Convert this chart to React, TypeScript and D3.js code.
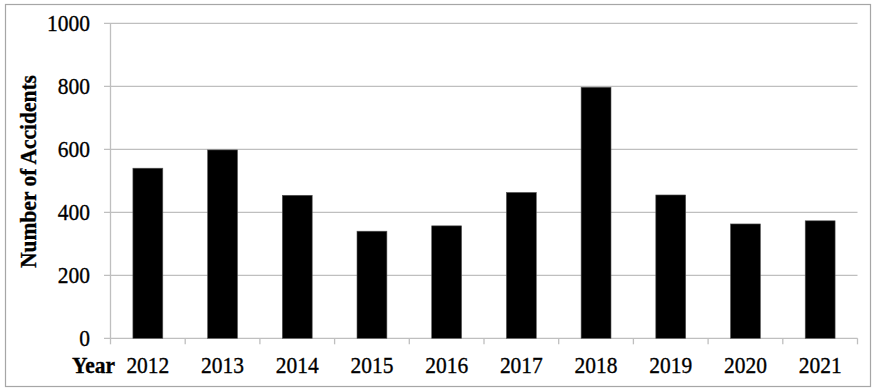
import React from "react";
import * as d3 from "d3";

const years = ["2012", "2013", "2014", "2015", "2016", "2017", "2018", "2019", "2020", "2021"];
const accidents = [540, 598, 454, 340, 357, 463, 797, 455, 363, 373];
const yTicks = [0, 200, 400, 600, 800, 1000];

const W = 877;
const H = 391;
const M = { left: 110.5, right: 857.5, top: 23.3, bottom: 338.3 };
const FONT = "'Liberation Serif', 'Times New Roman', serif";
const FS = 24;
const SX = 0.895;

function T(props: { x: number; y: number; rot?: boolean; anchor: string; bold?: boolean; dy?: string; children: React.ReactNode }) {
  const tr = `translate(${props.x},${props.y})${props.rot ? " rotate(-90)" : ""} scale(${SX},1)`;
  return (
    <text
      transform={tr}
      dy={props.dy}
      textAnchor={props.anchor}
      fontFamily={FONT}
      fontSize={FS}
      fontWeight={props.bold ? "bold" : "normal"}
      fill="#000"
      stroke="#000"
      strokeWidth={0.35}
    >
      {props.children}
    </text>
  );
}

export default function App() {
  const x = d3.scaleBand<string>().domain(years).range([M.left, M.right]).paddingInner(0.6).paddingOuter(0.3);
  const xc = d3.scaleBand<string>().domain(years).range([M.left, M.right]);
  const y = d3.scaleLinear().domain([0, 1000]).range([M.bottom, M.top]);

  return (
    <svg width={W} height={H} style={{ position: "absolute", left: 0, top: 0, background: "#fff" }}>
      <rect x={5.5} y={4.5} width={865} height={382} fill="#fff" stroke="#a6a6a6" strokeWidth={1.2} />
      {yTicks.map((t) => (
        <g key={t}>
          <line x1={104} x2={M.right} y1={y(t)} y2={y(t)} stroke="#bfbfbf" strokeWidth={1.3} />
          <T x={90} y={y(t)} dy="0.33em" anchor="end">
            {t}
          </T>
        </g>
      ))}
      <line x1={M.left} x2={M.left} y1={M.top} y2={M.bottom} stroke="#bfbfbf" strokeWidth={1.3} />
      {years.map((yr) => (
        <line key={"t" + yr} x1={xc(yr)!} x2={xc(yr)!} y1={M.bottom} y2={M.bottom + 6} stroke="#bfbfbf" strokeWidth={1.3} />
      ))}
      <line x1={M.right} x2={M.right} y1={M.bottom} y2={M.bottom + 6} stroke="#bfbfbf" strokeWidth={1.3} />
      {years.map((yr, i) => (
        <rect
          key={yr}
          x={x(yr)!}
          y={y(accidents[i])}
          width={x.bandwidth()}
          height={M.bottom - y(accidents[i])}
          fill="#000"
          stroke="#555"
          strokeWidth={0.6}
        />
      ))}
      {years.map((yr) => (
        <T key={"l" + yr} x={xc(yr)! + xc.bandwidth() / 2} y={373} anchor="middle">
          {yr}
        </T>
      ))}
      <T x={115} y={373} anchor="end" bold>
        Year
      </T>
      <T x={35.5} y={171.5} rot anchor="middle" bold>
        Number of Accidents
      </T>
    </svg>
  );
}
